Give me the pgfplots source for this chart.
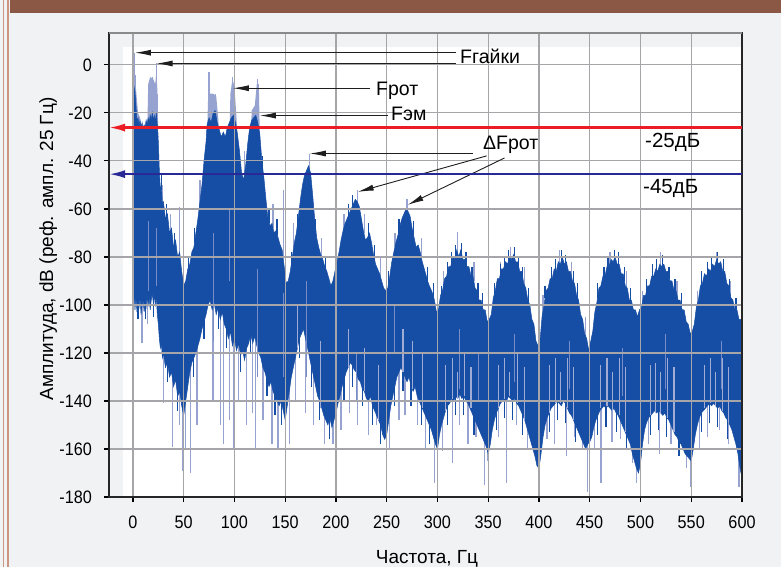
\documentclass[border=0pt]{standalone}
\usepackage{fontspec}
\setmainfont{Liberation Sans}
\newfontfamily\tickfont{Liberation Sans}[FakeStretch=0.9]
\usepackage{pgfplots}
\pgfplotsset{compat=1.18}
\usetikzlibrary{arrows.meta}
\definecolor{pagebg}{RGB}{241,242,244}
\definecolor{hdr}{RGB}{139,88,69}
\definecolor{brd}{RGB}{205,150,130}
\definecolor{spec}{RGB}{22,78,165}
\definecolor{spike}{RGB}{150,163,208}
\definecolor{streak}{RGB}{120,140,200}
\definecolor{streakl}{RGB}{160,172,212}
\definecolor{gridc}{RGB}{172,172,172}
\definecolor{gridb}{RGB}{165,165,170}
\definecolor{redl}{RGB}{236,28,36}
\definecolor{bluel}{RGB}{40,40,150}
\definecolor{arr}{RGB}{30,30,30}
\begin{document}
\begin{tikzpicture}
\useasboundingbox (0,0) rectangle (781pt,-567pt);
\fill[pagebg] (0,0) rectangle (781pt,-567pt);
\fill[hdr] (10pt,0) rectangle (781pt,-13.5pt);
\fill[brd] (2.7pt,0) rectangle (4.3pt,-567pt);
\fill[brd] (7pt,0) rectangle (9.3pt,-567pt);
\begin{axis}[
  at={(109pt,-497pt)}, anchor=south west,
  scale only axis, width=633pt, height=464pt,
  xmin=-23.6, xmax=600, ymin=-180, ymax=13.3,
  xtick={0,50,...,600}, ytick={-180,-160,...,0},
  xtick pos=bottom, ytick pos=left,
  tick align=outside, major tick length=5pt,
  tick style={black, line width=1.1pt},
  axis on top,
  axis line style={black!85, line width=1.2pt},
  ticklabel style={font=\tickfont\fontsize{18}{18}\selectfont},
  /pgf/number format/assume math mode=true,
  xticklabel style={anchor=north, inner sep=0pt, yshift=-13.5pt},
  yticklabel style={anchor=east, inner sep=0pt, xshift=-12pt},
  clip=true,
]
\fill[white] (axis cs:-9.8,7.5) rectangle (axis cs:600,-181);
% light halos around the strongest peaks
\addplot[fill=spike, draw=none] coordinates {(0,-30) (0,-12) (1,-8) (3,-10) (5,-20) (7,-22) (7,-30)};
\addplot[fill=spike, draw=none] coordinates {(14,-30) (15,-8) (17,-5) (20,-6) (22,-8) (23,-3) (24,-10) (25,-30)};
\addplot[fill=spike, draw=none] coordinates {(73,-30) (74,-14) (76,-12) (79,-12) (82,-13) (84,-22) (85,-30)};
\addplot[fill=spike, draw=none] coordinates {(95,-30) (96,-12) (98,-6) (100,-9) (102,-22) (103,-30)};
\addplot[fill=spike, draw=none] coordinates {(116,-30) (117,-19) (120,-17) (122,-8) (124,-8) (125,-30)};
% light spikes downward
\addplot[spike, line width=1.3pt, unbounded coords=jump] coordinates {
(9,-95) (9,-116) (9,nan) (14,-95) (14,-108) (14,nan) (30,-115) (30,-141) (30,nan)
(39,-125) (39,-159) (39,nan) (46,-130) (46,-150) (46,nan) (49,-135) (49,-169) (49,nan)
(52,-135) (52,-160) (52,nan) (57,-120) (57,-170) (57,nan) (63,-115) (63,-150) (63,nan)
(79,-100) (79,-140) (79,nan) (86,-100) (86,-150) (86,nan) (89,-100) (89,-158) (89,nan)
(95,-108) (95,-148) (95,nan) (99,-110) (99,-160) (99,nan) (104,-115) (104,-140) (104,nan)
(112,-115) (112,-150) (112,nan) (118,-112) (118,-145) (118,nan) (121,-112) (121,-160) (121,nan)
(128,-120) (128,-148) (128,nan) (137,-130) (137,-158) (137,nan) (143,-135) (143,-160) (143,nan)
(150,-140) (150,-178) (150,nan) (154,-132) (154,-158) (154,nan) (160,-118) (160,-140) (160,nan)
(170,-110) (170,-145) (170,nan) (178,-125) (178,-150) (178,nan) (189,-140) (189,-158) (189,nan)
(197,-140) (197,-158) (197,nan) (205,-135) (205,-152) (205,nan) (213,-120) (213,-145) (213,nan)
(221,-125) (221,-150) (221,nan) (232,-135) (232,-154) (232,nan) (240,-140) (240,-150) (240,nan)
(250,-148) (250,-165) (250,nan) (253,-145) (253,-160) (253,nan) (262,-125) (262,-148) (262,nan)
(268,-125) (268,-146) (268,nan) (280,-135) (280,-150) (280,nan) (288,-140) (288,-160) (288,nan)
(297,-150) (297,-174) (297,nan) (305,-148) (305,-161) (305,nan) (315,-135) (315,-166) (315,nan)
(322,-135) (322,-150) (322,nan) (330,-138) (330,-158) (330,nan) (338,-145) (338,-155) (338,nan)
(346,-150) (346,-175) (346,nan) (349,-150) (349,-165) (349,nan) (360,-140) (360,-155) (360,nan)
(368,-135) (368,-174) (368,nan) (378,-138) (378,-150) (378,nan) (389,-148) (389,-160) (389,nan)
(400,-160) (400,-169) (400,nan) (408,-145) (408,-156) (408,nan) (415,-138) (415,-158) (415,nan)
(427,-140) (427,-163) (427,nan) (435,-145) (435,-155) (435,nan) (443,-153) (443,-160) (443,nan)
(448,-155) (448,-178) (448,nan) (455,-148) (455,-160) (455,nan) (461,-142) (461,-174) (461,nan)
(472,-140) (472,-157) (472,nan) (480,-145) (480,-156) (480,nan) (492,-155) (492,-166) (492,nan)
(496,-160) (496,-174) (496,nan) (508,-145) (508,-158) (508,nan) (519,-140) (519,-162) (519,nan)
(530,-148) (530,-158) (530,nan) (545,-158) (545,-168) (545,nan) (549,-160) (549,-176) (549,nan)
(558,-145) (558,-160) (558,nan) (566,-140) (566,-155) (566,nan) (578,-140) (578,-152) (578,nan)
(587,-145) (587,-158) (587,nan) (597,-160) (597,-176) (597,nan)
};
% light spikes upward
\addplot[spike, line width=1.3pt, unbounded coords=jump] coordinates {
(1,-12) (1,5) (1,nan) (2,-15) (2,-4) (2,nan) (17,-24) (17,-6) (17,nan) (19,-23) (19,-5) (19,nan)
(21,-24) (21,-8) (21,nan) (23,-22) (23,1) (23,nan) (24,-27) (24,-12) (24,nan)
(29,-60) (29,-50) (29,nan) (37,-72) (37,-62) (37,nan) (46,-80) (46,-59) (46,nan)
(66,-60) (66,-48) (66,nan) (75,-20) (75,-3) (75,nan) (78,-22) (78,-13) (78,nan)
(81,-16) (81,-12) (81,nan) (98,-23) (98,-5) (98,nan) (100,-25) (100,-10) (100,nan)
(110,-45) (110,-36) (110,nan) (118,-22) (118,-19) (118,nan) (123,-22) (123,-6) (123,nan)
(138,-68) (138,-58) (138,nan) (148,-80) (148,-52) (148,nan) (158,-76) (158,-66) (158,nan)
(174,-44) (174,-37) (174,nan) (186,-80) (186,-72) (186,nan) (208,-70) (208,-62) (208,nan)
(221,-58) (221,-52) (221,nan) (228,-70) (228,-62) (228,nan) (244,-88) (244,-80) (244,nan)
(258,-76) (258,-70) (258,nan) (270,-62) (270,-56) (270,nan) (284,-80) (284,-72) (284,nan)
(306,-92) (306,-86) (306,nan) (320,-80) (320,-69.5) (320,nan) (336,-90) (336,-82) (336,nan)
(350,-107) (350,-100) (350,nan) (362,-90) (362,-82) (362,nan) (372,-82) (372,-76) (372,nan)
(386,-92) (386,-84) (386,nan) (404,-105) (404,-96) (404,nan) (420,-84) (420,-77) (420,nan)
(432,-88) (432,-82) (432,nan) (446,-113) (446,-105) (446,nan) (470,-85) (470,-78) (470,nan)
(486,-93) (486,-86) (486,nan) (502,-100) (502,-94) (502,nan) (520,-85) (520,-78) (520,nan)
(536,-97) (536,-90) (536,nan) (556,-101) (556,-94) (556,nan) (575,-84) (575,-78) (575,nan)
(589,-97) (589,-90) (589,nan)
};
% ragged dark edges (upper and lower)
\addplot[spec, line width=1.2pt, unbounded coords=jump] coordinates {
(28,-52) (28,-46) (28,nan) (33,-64) (33,-58) (33,nan) (41,-76) (41,-70) (41,nan) (55,-85) (55,-80) (55,nan)
(61,-74) (61,-68) (61,nan) (128,-45) (128,-38) (128,nan) (134,-66) (134,-60) (134,nan) (142,-71) (142,-64) (142,nan)
(156,-84) (156,-78) (156,nan) (162,-68) (162,-62) (162,nan) (180,-70) (180,-64) (180,nan) (190,-86) (190,-80) (190,nan)
(200,-85) (200,-78) (200,nan) (212,-64) (212,-58) (212,nan) (216,-60) (216,-54) (216,nan) (232,-72) (232,-66) (232,nan)
(238,-82) (238,-75) (238,nan) (252,-92) (252,-86) (252,nan) (262,-70) (262,-64) (262,nan) (276,-71) (276,-65) (276,nan)
(290,-90) (290,-84) (290,nan) (296,-97) (296,-91) (296,nan)
(304,-98) (304,-92) (304,nan) (310,-88) (310,-82) (310,nan) (314,-84) (314,-78) (314,nan) (318,-80) (318,-75) (318,nan)
(324,-80) (324,-74) (324,nan) (328,-84) (328,-78) (328,nan) (334,-90) (334,-84) (334,nan) (340,-97) (340,-91) (340,nan)
(344,-101) (344,-95) (344,nan) (356,-97) (356,-91) (356,nan) (362,-88) (362,-83) (362,nan) (366,-85) (366,-80) (366,nan)
(370,-83) (370,-77) (370,nan) (376,-82) (376,-76) (376,nan) (380,-85) (380,-80) (380,nan) (384,-89) (384,-84) (384,nan)
(390,-100) (390,-93) (390,nan) (406,-97) (406,-92) (406,nan) (412,-90) (412,-84) (412,nan) (416,-86) (416,-81) (416,nan)
(422,-83) (422,-77) (422,nan) (426,-84) (426,-79) (426,nan) (434,-91) (434,-86) (434,nan) (438,-97) (438,-91) (438,nan)
(458,-97) (458,-91) (458,nan) (464,-89) (464,-84) (464,nan) (468,-85) (468,-80) (468,nan) (474,-82) (474,-77) (474,nan)
(478,-84) (478,-78) (478,nan) (484,-90) (484,-84) (484,nan) (490,-99) (490,-93) (490,nan) (506,-95) (506,-89) (506,nan)
(512,-89) (512,-83) (512,nan) (516,-87) (516,-81) (516,nan) (522,-85) (522,-79) (522,nan) (528,-89) (528,-84) (528,nan)
(534,-95) (534,-89) (534,nan) (540,-101) (540,-95) (540,nan) (560,-92) (560,-86) (560,nan) (566,-88) (566,-82) (566,nan)
(570,-86) (570,-80) (570,nan) (576,-83) (576,-78) (576,nan) (582,-87) (582,-81) (582,nan) (588,-95) (588,-89) (588,nan)
(594,-103) (594,-97) (594,nan)
(5,-98) (5,-106) (5,nan) (12,-98) (12,-106) (12,nan) (20,-98) (20,-105) (20,nan) (34,-122) (34,-132) (34,nan)
(44,-136) (44,-144) (44,nan) (60,-120) (60,-130) (60,nan) (70,-105) (70,-114) (70,nan) (84,-100) (84,-110) (84,nan)
(92,-108) (92,-118) (92,nan) (106,-119) (106,-128) (106,nan) (116,-111) (116,-120) (116,nan) (132,-129) (132,-138) (132,nan)
(140,-136) (140,-146) (140,nan) (146,-138) (146,-150) (146,nan) (164,-112) (164,-122) (164,nan) (176,-124) (176,-134) (176,nan)
(184,-138) (184,-148) (184,nan) (194,-146) (194,-156) (194,nan) (208,-129) (208,-140) (208,nan) (216,-123) (216,-134) (216,nan)
(226,-133) (226,-142) (226,nan) (236,-140) (236,-150) (236,nan) (244,-148) (244,-158) (244,nan) (258,-132) (258,-142) (258,nan)
(266,-126) (266,-136) (266,nan) (274,-132) (274,-142) (274,nan) (284,-140) (284,-150) (284,nan) (292,-148) (292,-158) (292,nan)
(310,-140) (310,-150) (310,nan) (318,-136) (318,-146) (318,nan) (326,-136) (326,-146) (326,nan) (336,-145) (336,-154) (336,nan)
(358,-143) (358,-152) (358,nan) (366,-137) (366,-147) (366,nan) (374,-138) (374,-148) (374,nan) (384,-144) (384,-154) (384,nan)
(410,-143) (410,-153) (410,nan) (418,-138) (418,-148) (418,nan) (426,-139) (426,-149) (426,nan) (436,-148) (436,-157) (436,nan)
(458,-144) (458,-154) (458,nan) (466,-141) (466,-151) (466,nan) (476,-143) (476,-153) (476,nan) (486,-152) (486,-160) (486,nan)
(510,-144) (510,-154) (510,nan) (518,-142) (518,-152) (518,nan) (526,-145) (526,-155) (526,nan) (538,-155) (538,-163) (538,nan)
(560,-143) (560,-153) (560,nan) (568,-139) (568,-149) (568,nan) (576,-141) (576,-151) (576,nan) (586,-146) (586,-156) (586,nan)
};
% dense spectrum band: upper envelope then lower envelope (reversed)
\addplot[fill=spec, draw=spec, line width=0.5pt] coordinates {
(0,-100) (0,-14) (1,-9) (2,-11) (3,-17) (4,-24) (5,-22) (6,-25) (7,-23) (8,-26) (9,-24) (10,-27) (11,-25) (12,-26)
(13,-23) (14,-25) (15,-22) (16,-24) (17,-21) (18,-23) (19,-20) (20,-23) (21,-21) (22,-24) (23,-20)
(24,-25) (25,-32) (26,-44) (27,-52) (28,-50) (29,-58) (30,-57) (32,-64) (34,-62) (36,-70) (38,-68)
(40,-76) (42,-73) (44,-80) (46,-78) (48,-86) (50,-92) (52,-90) (54,-85) (56,-83) (58,-78) (60,-76)
(62,-70) (64,-64) (66,-57) (68,-50) (70,-40) (72,-32) (73,-25) (75,-22) (77,-24) (79,-20) (81,-19)
(83,-24) (85,-27) (87,-30) (89,-28) (91,-30) (93,-26) (95,-24) (97,-22) (99,-21) (101,-24) (103,-29)
(105,-36) (107,-45) (109,-48) (111,-42) (113,-33) (115,-26) (117,-23) (119,-22) (121,-21) (123,-24)
(125,-29) (127,-40) (129,-47) (131,-56) (133,-64) (135,-67) (137,-66) (139,-70) (141,-69) (143,-72)
(145,-75) (147,-77) (149,-84) (151,-91) (153,-90) (155,-86) (157,-80) (159,-74) (161,-70) (163,-63)
(165,-56) (167,-50) (169,-46) (171,-44) (173,-42) (175,-45) (177,-54) (179,-64) (181,-72) (183,-76)
(185,-79) (187,-81) (189,-84) (191,-86) (193,-89) (195,-92) (197,-90) (199,-86) (201,-82) (203,-78)
(205,-73) (207,-69) (209,-66) (211,-64) (213,-62) (215,-60) (217,-58) (219,-56) (221,-57) (223,-59)
(225,-64) (227,-69) (229,-73) (231,-72) (233,-70) (235,-74) (237,-79) (239,-83) (241,-85) (243,-87)
(245,-90) (247,-93) (249,-94) (251,-93) (253,-88) (255,-82) (257,-78) (259,-74) (261,-71) (263,-67)
(265,-64) (267,-62) (269,-60) (271,-61) (273,-63) (275,-68) (277,-72) (279,-76) (281,-75) (283,-78)
(285,-82) (287,-85) (289,-88) (291,-91) (293,-93) (295,-95) (297,-98) (299,-103)
(301,-102) (303,-96) (305,-94) (307,-89) (309,-88) (311,-84) (313,-84) (315,-80) (317,-81) (319,-77)
(321,-80) (323,-77) (325,-81) (327,-81) (329,-84) (331,-84) (333,-88) (335,-88) (337,-93) (339,-94)
(341,-98) (343,-98) (345,-102) (347,-102) (349,-107) (351,-106) (353,-104) (355,-97) (357,-94) (359,-89)
(361,-89) (363,-85) (365,-85) (367,-82) (369,-83) (371,-80) (373,-81) (375,-79) (377,-82) (379,-82)
(381,-86) (383,-86) (385,-91) (387,-93) (389,-98) (391,-100) (393,-106) (395,-108) (397,-115) (399,-117)
(401,-115) (403,-105) (405,-100) (407,-94) (409,-93) (411,-89) (413,-89) (415,-85) (417,-86) (419,-82)
(421,-83) (423,-80) (425,-83) (427,-82) (429,-86) (431,-86) (433,-90) (435,-91) (437,-96) (439,-98)
(441,-104) (443,-106) (445,-112) (447,-114) (449,-119) (451,-115) (453,-111) (455,-103) (457,-99)
(459,-93) (461,-92) (463,-88) (465,-88) (467,-84) (469,-84) (471,-81) (473,-82) (475,-80) (477,-83)
(479,-83) (481,-87) (483,-87) (485,-92) (487,-93) (489,-98) (491,-98) (493,-102) (495,-102) (497,-105)
(499,-102) (501,-101) (503,-96) (505,-96) (507,-92) (509,-92) (511,-88) (513,-88) (515,-85) (517,-86)
(519,-83) (521,-84) (523,-83) (525,-86) (527,-86) (529,-90) (531,-90) (533,-94) (535,-94) (537,-98)
(539,-98) (541,-102) (543,-102) (545,-107) (547,-108) (549,-112) (551,-111) (553,-108) (555,-101)
(557,-98) (559,-92) (561,-91) (563,-87) (565,-88) (567,-85) (569,-86) (571,-83) (573,-84) (575,-81)
(577,-83) (579,-82) (581,-86) (583,-86) (585,-91) (587,-92) (589,-97) (591,-98) (593,-102) (595,-102)
(597,-106) (599,-106) (600,-108)
(600,-172) (598,-168) (596,-162) (594,-158) (592,-155) (590,-152) (588,-150) (586,-148) (584,-147)
(582,-145) (580,-144) (578,-142) (576,-143) (574,-142) (572,-141) (570,-142) (568,-141) (566,-142)
(564,-143) (562,-144) (560,-145) (558,-147) (556,-150) (554,-154) (552,-160) (550,-165) (548,-164)
(546,-163) (544,-162) (542,-160) (540,-158) (538,-157) (536,-155) (534,-154) (532,-152) (530,-150)
(528,-148) (526,-147) (524,-145) (522,-146) (520,-145) (518,-144) (516,-145) (514,-144) (512,-145)
(510,-146) (508,-147) (506,-149) (504,-152) (502,-158) (500,-166) (498,-170) (496,-168) (494,-165)
(492,-162) (490,-158) (488,-156) (486,-154) (484,-152) (482,-150) (480,-148) (478,-146) (476,-145)
(474,-143) (472,-144) (470,-143) (468,-142) (466,-143) (464,-142) (462,-143) (460,-144) (458,-146)
(456,-148) (454,-151) (452,-155) (450,-157) (448,-158) (446,-160) (444,-158) (442,-156) (440,-154)
(438,-152) (436,-150) (434,-148) (432,-146) (430,-145) (428,-143) (426,-141) (424,-140) (422,-142)
(420,-141) (418,-140) (416,-141) (414,-142) (412,-143) (410,-145) (408,-147) (406,-150) (404,-155)
(402,-162) (400,-168) (398,-167) (396,-163) (394,-160) (392,-157) (390,-154) (388,-151) (386,-148)
(384,-146) (382,-144) (380,-142) (378,-141) (376,-139) (374,-140) (372,-139) (370,-138) (368,-140)
(366,-139) (364,-140) (362,-141) (360,-143) (358,-145) (356,-148) (354,-152) (352,-158) (350,-162)
(348,-159) (346,-157) (344,-155) (342,-153) (340,-151) (338,-149) (336,-147) (334,-145) (332,-143)
(330,-141) (328,-140) (326,-138) (324,-139) (322,-137) (320,-139) (318,-138) (316,-140) (314,-139)
(312,-141) (310,-142) (308,-144) (306,-147) (304,-150) (302,-154) (300,-160) (298,-158) (296,-155)
(294,-152) (292,-150) (290,-148) (288,-146) (286,-144) (284,-142) (282,-140) (280,-138) (278,-134)
(276,-136) (274,-134) (272,-130) (270,-132) (268,-130) (266,-128) (264,-126) (262,-128) (260,-130)
(258,-134) (256,-138) (254,-142) (252,-148) (250,-154) (248,-156) (246,-154) (244,-150) (242,-148)
(240,-146) (238,-144) (236,-142) (234,-138) (232,-140) (230,-139) (228,-136) (226,-135) (224,-132)
(222,-131) (220,-128) (218,-127) (216,-125) (214,-124) (212,-126) (210,-128) (208,-131) (206,-134)
(204,-138) (202,-141) (200,-145) (198,-148) (196,-151) (194,-147) (192,-150) (190,-148) (188,-146)
(186,-143) (184,-140) (182,-138) (180,-134) (178,-130) (176,-126) (174,-122) (172,-118) (170,-114)
(168,-110) (166,-112) (164,-114) (162,-118) (160,-122) (158,-126) (156,-130) (154,-136) (152,-142)
(150,-148) (148,-144) (146,-140) (144,-142) (142,-140) (140,-138) (138,-136) (136,-132) (134,-134)
(132,-131) (130,-128) (128,-126) (126,-122) (124,-120) (122,-117) (120,-113) (118,-116) (116,-112)
(114,-116) (112,-118) (110,-123) (108,-119) (106,-121) (104,-116) (102,-119) (100,-114) (98,-117)
(96,-111) (94,-114) (92,-110) (90,-108) (88,-103) (86,-106) (84,-101) (82,-104) (80,-99) (78,-102)
(76,-98) (74,-100) (72,-104) (70,-107) (68,-110) (66,-114) (64,-117) (62,-120) (60,-122) (58,-124)
(56,-128) (54,-134) (52,-140) (50,-146) (48,-142) (46,-136) (44,-138) (42,-131) (40,-134) (38,-128)
(36,-130) (34,-124) (32,-126) (30,-120) (29,-122) (28,-116) (27,-118) (26,-114) (25,-108) (24,-104)
(23,-97) (22,-100) (21,-96) (20,-99) (19,-95) (18,-98) (17,-102) (16,-97) (15,-100) (14,-96)
(13,-101) (12,-99) (11,-103) (10,-98) (9,-100) (8,-104) (7,-97) (6,-101) (5,-99) (4,-103) (3,-97)
(2,-102) (1,-96) (0,-100)
};
% lighter streaks inside the band
\addplot[streak, line width=1pt, unbounded coords=jump] coordinates {
(15,-65) (15,-94) (15,nan) (23,-68) (23,-92) (23,nan) (79,-70) (79,-115) (79,nan)
(95,-60) (95,-90) (95,nan) (123,-85) (123,-130) (123,nan) (148,-95) (148,-130) (148,nan)
(171,-90) (171,-130) (171,nan) (220,-120) (220,-140) (220,nan) (258,-100) (258,-120) (258,nan)
(322,-110) (322,-135) (322,nan) (340,-120) (340,-140) (340,nan) (376,-112) (376,-132) (376,nan)
(430,-115) (430,-135) (430,nan) (482,-118) (482,-138) (482,nan) (525,-112) (525,-135) (525,nan)
(580,-115) (580,-135) (580,nan)
};
\addplot[streakl, line width=1.1pt, unbounded coords=jump] coordinates {
(162,-100) (162,-118) (162,nan) (185,-115) (185,-143) (185,nan) (200,-120) (200,-145) (200,nan)
(212,-110) (212,-126) (212,nan) (228,-118) (228,-136) (228,nan) (242,-125) (242,-148) (242,nan)
(266,-110) (266,-128) (266,nan) (275,-115) (275,-135) (275,nan) (285,-120) (285,-143) (285,nan)
(308,-125) (308,-144) (308,nan) (315,-122) (315,-139) (315,nan) (320,-128) (320,-139) (320,nan)
(327,-120) (327,-138) (327,nan) (333,-126) (333,-143) (333,nan)
(360,-125) (360,-143) (360,nan) (366,-122) (366,-139) (366,nan) (371,-128) (371,-138) (371,nan)
(379,-120) (379,-141) (379,nan) (386,-126) (386,-148) (386,nan)
(410,-125) (410,-145) (410,nan) (416,-122) (416,-141) (416,nan) (421,-128) (421,-141) (421,nan)
(428,-122) (428,-143) (428,nan) (434,-126) (434,-148) (434,nan)
(461,-125) (461,-143) (461,nan) (467,-122) (467,-142) (467,nan) (472,-128) (472,-144) (472,nan)
(479,-122) (479,-146) (479,nan) (485,-126) (485,-153) (485,nan)
(510,-125) (510,-146) (510,nan) (515,-124) (515,-145) (515,nan) (520,-128) (520,-145) (520,nan)
(527,-122) (527,-147) (527,nan) (533,-126) (533,-153) (533,nan)
(563,-125) (563,-143) (563,nan) (569,-122) (569,-141) (569,nan) (574,-128) (574,-142) (574,nan)
(581,-122) (581,-144) (581,nan) (587,-126) (587,-149) (587,nan)
};
\coordinate (g1s) at (axis cs:317.9,5.1);  \coordinate (g1e) at (axis cs:2,5.1);
\coordinate (g2s) at (axis cs:317.9,0.6);  \coordinate (g2e) at (axis cs:23.3,0.6);
\coordinate (r1s) at (axis cs:233.2,-9.7); \coordinate (r1e) at (axis cs:98.4,-9.7);
\coordinate (e1s) at (axis cs:250.9,-21.1); \coordinate (e1e) at (axis cs:125,-21.1);
\coordinate (d1s) at (axis cs:334.6,-36.9); \coordinate (d1e) at (axis cs:174.2,-36.9);
\coordinate (d2s) at (axis cs:348.4,-37.9); \coordinate (d2e) at (axis cs:221.4,-52.9);
\coordinate (d3s) at (axis cs:366.1,-38.75); \coordinate (d3e) at (axis cs:270.6,-58.3);
\coordinate (rls) at (axis cs:600,-26.1); \coordinate (rle) at (axis cs:-23.6,-26.1);
\coordinate (bls) at (axis cs:600,-45.5); \coordinate (ble) at (axis cs:-23.6,-45.5);
\end{axis}
% grid lines over the spectrum
\foreach \gx in {0,50,100,150,200,250,300,350,400,450,500,550} {
  \pgfmathsetmacro\px{109+(\gx+23.6)*1.015074}
  \draw[gridb, line width=1.1pt] (\px pt,-34pt) -- (\px pt,-496pt);
}
\foreach \gy in {-160,-140,-120,-100,-80,-60,-40,-20,0} {
  \pgfmathsetmacro\py{-497+(\gy+180)*2.400414}
  \draw[gridb, line width=1.1pt] (110pt,\py pt) -- (741pt,\py pt);
}
\draw[gridc!80!black, line width=1.4pt] (109pt,-33pt) -- (742pt,-33pt);
\begin{scope}[line width=0.9pt, arr, -{Latex[length=16pt,width=6pt]}]
\draw (g1s) -- (g1e);
\draw (g2s) -- (g2e);
\draw (r1s) -- (r1e);
\draw (e1s) -- (e1e);
\draw (d1s) -- (d1e);
\draw (d2s) -- (d2e);
\draw (d3s) -- (d3e);
\end{scope}
\draw[redl, line width=2.2pt, -{Latex[length=16pt,width=8pt]}] (rls) -- (rle);
\draw[bluel, line width=2.2pt, -{Latex[length=16pt,width=8pt]}] (bls) -- (ble);
\begin{scope}[font=\fontsize{19.5}{19.5}\selectfont, inner sep=0pt]
\node[anchor=base west] at (460pt,-63.3pt) {Fгайки};
\node[anchor=base west] at (376pt,-95.7pt) {Fрот};
\node[anchor=base west] at (391pt,-121pt) {Fэм};
\node[anchor=base west] at (483pt,-149pt) {ΔFрот};
\node[anchor=base west, font=\fontsize{20.5}{20.5}\selectfont] at (645pt,-147.3pt) {-25дБ};
\node[anchor=base west, font=\fontsize{20.5}{20.5}\selectfont] at (643pt,-193.3pt) {-45дБ};
\node[anchor=base, rotate=90, font=\fontsize{19}{19}\selectfont] at (53pt,-249pt) {Амплитуда, dB (реф. ампл. 25 Гц)};
\node[anchor=base, font=\fontsize{19}{19}\selectfont] at (427pt,-563pt) {Частота, Гц};
\end{scope}
\end{tikzpicture}
\end{document}
